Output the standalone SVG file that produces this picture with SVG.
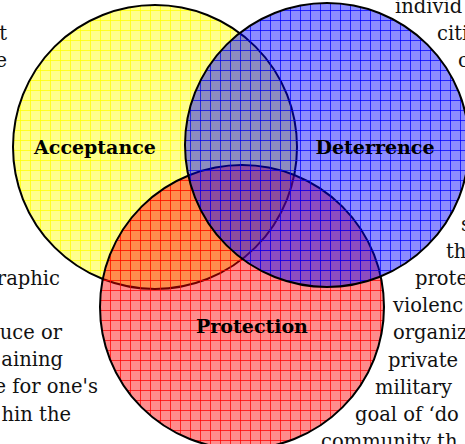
<svg xmlns="http://www.w3.org/2000/svg" width="465" height="444" viewBox="0 0 465 444">
<style>
.bg{font-family:"DejaVu Serif","Liberation Serif",serif;font-size:19.5px;fill:#111}
.lbl{font-family:"DejaVu Serif","Liberation Serif",serif;font-size:19px;font-weight:bold;fill:#000;text-anchor:middle}
.ring{stroke:#000;stroke-width:2}
</style>
<defs>
<pattern id="py" width="10" height="10" patternUnits="userSpaceOnUse">
<rect width="10" height="10" fill="#ffff00" fill-opacity="0.45"/>
<path d="M0 0.5H10M0.5 0V10" stroke="#ffff00" stroke-opacity="0.75" stroke-width="1" fill="none"/>
</pattern>
<pattern id="pr" width="10" height="10" patternUnits="userSpaceOnUse">
<rect width="10" height="10" fill="#ff0000" fill-opacity="0.45"/>
<path d="M0 0.5H10M0.5 0V10" stroke="#ff0000" stroke-opacity="0.75" stroke-width="1" fill="none"/>
</pattern>
<pattern id="pb" width="10" height="10" patternUnits="userSpaceOnUse">
<rect width="10" height="10" fill="#0000ff" fill-opacity="0.45"/>
<path d="M0 0.5H10M0.5 0V10" stroke="#0000ff" stroke-opacity="0.75" stroke-width="1" fill="none"/>
</pattern>
</defs>
<rect width="465" height="444" fill="#fff"/>
<g id="background-text" class="bg">
<text x="7" y="40" text-anchor="end">t</text>
<text x="7" y="67" text-anchor="end">e</text>
<text x="60" y="285" text-anchor="end">raphic</text>
<text x="62" y="339" text-anchor="end">uce or</text>
<text x="63" y="366" text-anchor="end">aining</text>
<text x="98" y="393" text-anchor="end">e for one's</text>
<text x="71" y="421" text-anchor="end">hin the</text>
<text x="395" y="13">individ</text>
<text x="437" y="40">citi</text>
<text x="458" y="67">c</text>
<text x="461" y="231">s</text>
<text x="446" y="258">th</text>
<text x="415" y="285">prote</text>
<text x="393" y="312">violenc</text>
<text x="393" y="339">organiz</text>
<text x="388" y="367">private</text>
<text x="375" y="394">military</text>
<text x="355" y="421">goal of ‘do</text>
<text x="321" y="448">community th</text>
</g>
<g id="acceptance">
<circle class="ring" cx="155" cy="147" r="142" fill="url(#py)"/>
<text class="lbl" x="95" y="154">Acceptance</text>
</g>
<g id="protection">
<circle class="ring" cx="242" cy="307" r="142" fill="url(#pr)"/>
<text class="lbl" x="252" y="333">Protection</text>
</g>
<g id="deterrence">
<circle class="ring" cx="327" cy="145" r="142" fill="url(#pb)"/>
<text class="lbl" x="375" y="154">Deterrence</text>
</g>
</svg>
